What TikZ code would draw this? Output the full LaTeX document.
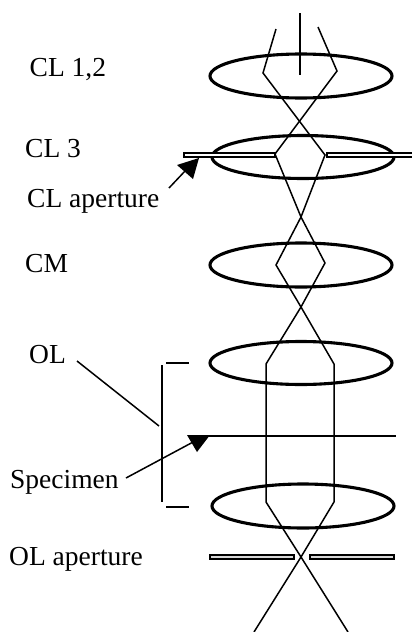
\documentclass[tikz,border=0pt]{standalone}
\usepackage{fontspec}
\setmainfont{Liberation Serif}
\begin{document}
\begin{tikzpicture}[x=1pt,y=-1pt,
  lens/.style={draw=black,line width=3.1pt},
  ray/.style={draw=black,line width=1.5pt,line join=miter},
  plate/.style={draw=black,line width=1.2pt,fill=#1},
  head/.style={fill=black,draw=none},
  lab/.style={anchor=base west,inner sep=0pt,font=\fontsize{27.5}{30}\selectfont}]
\useasboundingbox (0,0) rectangle (412,632);
% lenses
\draw[lens] (301,76) ellipse [x radius=91,y radius=22];
\draw[lens] (303,157) ellipse [x radius=91,y radius=21.5];
\draw[lens] (301,265) ellipse [x radius=91,y radius=22];
\draw[lens] (301,363) ellipse [x radius=91,y radius=21.5];
\draw[lens] (303,506) ellipse [x radius=91,y radius=22];
% apertures
\draw[plate=white] (184,153) rectangle (275,157);
\draw[plate=white] (327,153) rectangle (413,157);
\draw[plate=black!15] (210,555) rectangle (294,559);
\draw[plate=black!15] (310,555) rectangle (394,559);
% rays
\draw[ray] (300,13) -- (300,75);
\draw[ray] (276,29) -- (263,73) -- (325,155) -- (301,217) -- (276,265) -- (301,307) -- (334,364) -- (334,502) -- (301,557) -- (254,632);
\draw[ray] (318,27) -- (337,71) -- (275,154) -- (301,217) -- (325,263) -- (301,307) -- (266,364) -- (266,502) -- (301,557) -- (348,632);
% specimen plane and bracket
\draw[ray] (205,436) -- (396,436);
\draw[ray] (162,365) -- (162,502);
\draw[ray] (166,363) -- (189,363);
\draw[ray] (166,507) -- (189,507);
% labels
\node[lab] (cl12) at (29.5,76) {CL 1,2};
\node[lab] (cl3) at (25,157) {CL 3};
\node[lab] (clap) at (27,207) {CL aperture};
\node[lab] (cm) at (25,272) {CM};
\node[lab] (ol) at (29,363) {OL};
\node[lab] (spec) at (10,488) {Specimen};
\node[lab] (olap) at (9,565) {OL aperture};
% pointers
\coordinate (cltip) at (199,158);
\coordinate (sptip) at (210,435);
\draw[ray] (169,188) -- (186,170);
\fill[head] (cltip) -- (177,165) -- (193,179) -- cycle;
\draw[ray] (77,361) -- (159,426);
\draw[ray] (126,478) -- (195,441);
\fill[head] (sptip) -- (187,435) -- (197,452) -- cycle;
\end{tikzpicture}
\end{document}
